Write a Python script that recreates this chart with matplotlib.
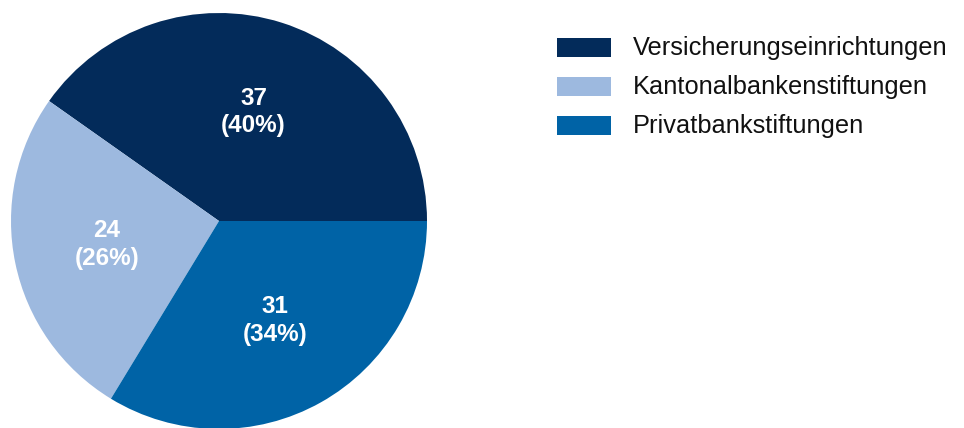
import matplotlib
matplotlib.use("Agg")
import matplotlib.pyplot as plt
from matplotlib.patches import Rectangle

categories = ["Versicherungseinrichtungen", "Kantonalbankenstiftungen", "Privatbankstiftungen"]
values = [37, 24, 31]
colors = ["#032B5A", "#9DB9DF", "#0063A6"]

W, H = 964, 428
fig = plt.figure(figsize=(W / 100, H / 100), dpi=100)
ax = fig.add_axes([0, 0, 1, 1])

total = sum(values)

def fmt(pct):
    v = int(round(pct * total / 100.0))
    return f"{v}\n({pct:.0f}%)"

wedges, texts, autotexts = ax.pie(
    values, colors=colors, startangle=0, counterclock=True,
    center=(219, 207), radius=208, autopct=fmt, pctdistance=0.55,
    wedgeprops=dict(linewidth=0),
    textprops=dict(color="white", fontsize=17.5, fontweight="bold",
                   family=["Liberation Sans", "DejaVu Sans"], linespacing=1.25),
)
for t in autotexts:
    t.set_ha("center")
    t.set_va("center")

# legend drawn in pixel coordinates
row_y = [381, 342, 303]
for name, c, y in zip(categories, colors, row_y):
    ax.add_patch(Rectangle((557, y - 9.5), 54, 19, facecolor=c, edgecolor="none"))
    ax.text(633, y - 1, name, fontsize=18.3, va="center", ha="left", color="#111111",
            family=["Liberation Sans", "DejaVu Sans"])

ax.set_xlim(0, W)
ax.set_ylim(0, H)
ax.set_aspect("auto")
ax.axis("off")

fig.savefig("out.png", dpi=100)
